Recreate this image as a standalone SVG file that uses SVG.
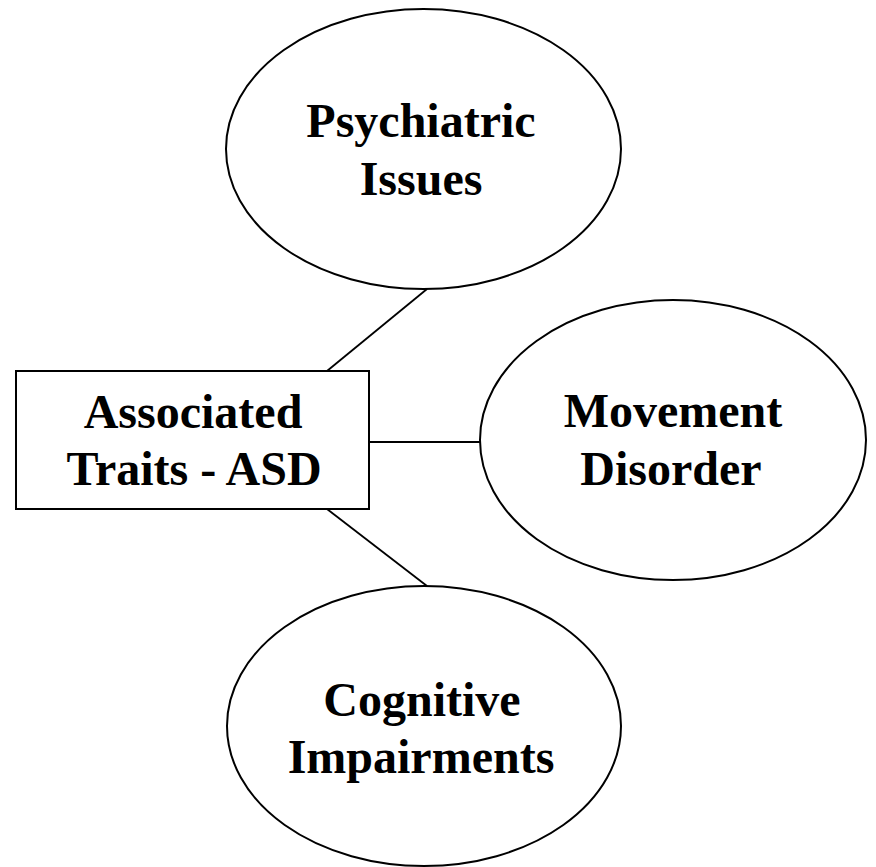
<svg xmlns="http://www.w3.org/2000/svg" width="876" height="867" viewBox="0 0 876 867">
<style>
.shape{fill:#fff;stroke:#000;stroke-width:2}
.conn{stroke:#000;stroke-width:1.8;fill:none}
.lbl{font-family:"Liberation Serif","Times New Roman",serif;font-weight:bold;font-size:48px;text-anchor:middle;fill:#000}
</style>
<rect width="876" height="867" fill="#fff"/>
<g id="connectors">
<line class="conn" x1="327" y1="371" x2="427" y2="289"/>
<line class="conn" x1="369" y1="442" x2="481" y2="442"/>
<line class="conn" x1="327" y1="509" x2="427" y2="586"/>
</g>
<g id="psychiatric">
<ellipse class="shape" cx="423.5" cy="149" rx="197.5" ry="140"/>
<text class="lbl" x="421" y="137">Psychiatric</text>
<text class="lbl" x="421" y="195">Issues</text>
</g>
<g id="associated">
<rect class="shape" x="16" y="371" width="353" height="138"/>
<text class="lbl" x="193" y="428">Associated</text>
<text class="lbl" x="194" y="485">Traits - ASD</text>
</g>
<g id="movement">
<ellipse class="shape" cx="673" cy="440" rx="193" ry="140"/>
<text class="lbl" x="673" y="427">Movement</text>
<text class="lbl" x="671" y="485">Disorder</text>
</g>
<g id="cognitive">
<ellipse class="shape" cx="424" cy="726" rx="197" ry="140"/>
<text class="lbl" x="422" y="716">Cognitive</text>
<text class="lbl" x="421" y="773">Impairments</text>
</g>
</svg>
